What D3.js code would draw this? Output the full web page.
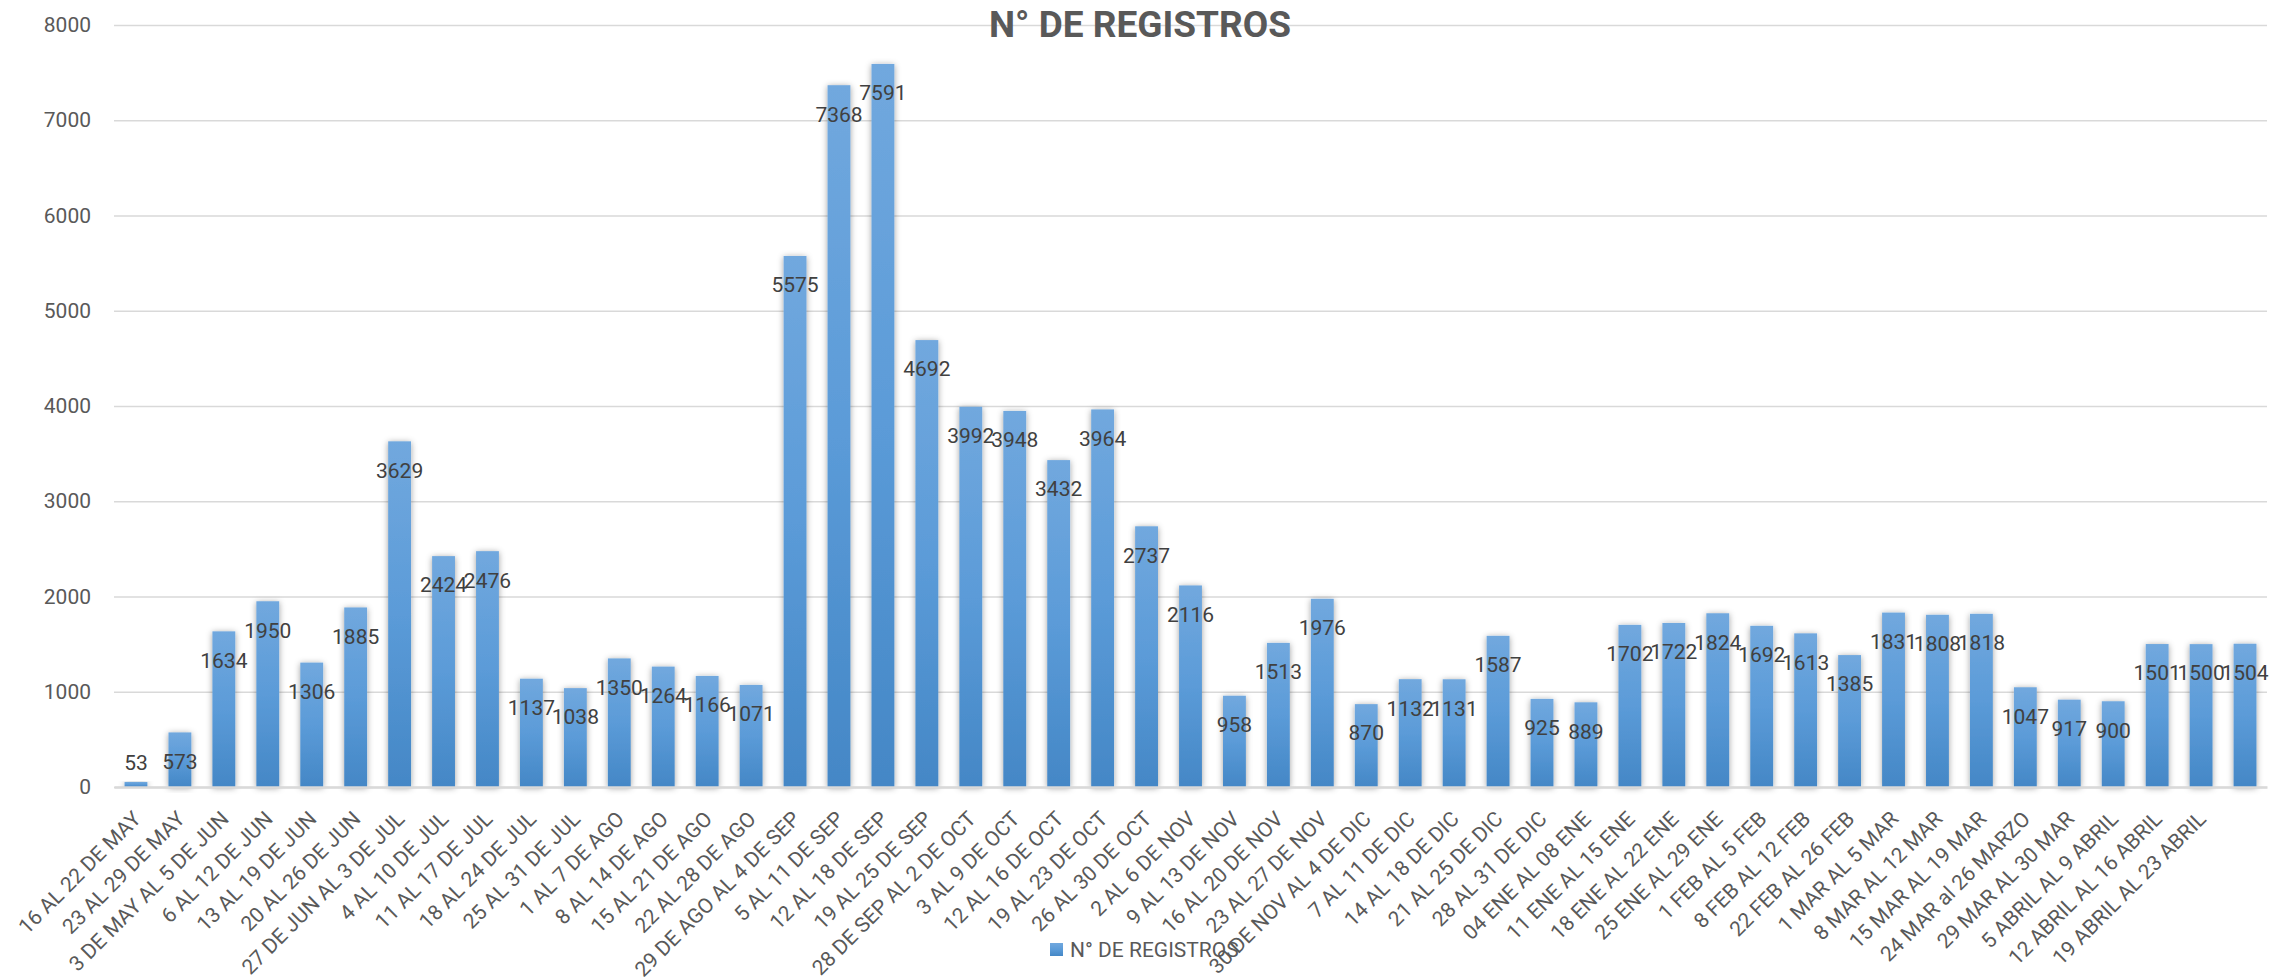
<!DOCTYPE html>
<html>
<head>
<meta charset="utf-8">
<script src="https://cdn.jsdelivr.net/npm/d3@7"></script>
<style>
  html, body { margin: 0; padding: 0; background: #ffffff; }
  svg { display: block; }
</style>
</head>
<body>
<svg id="chart" width="2295" height="980"></svg>
<script>
const title = "N° DE REGISTROS";
const seriesName = "N° DE REGISTROS";

const categories = [
  "16 AL 22 DE MAY", "23 AL 29 DE MAY", "3 DE MAY AL 5 DE JUN", "6 AL 12 DE JUN",
  "13 AL 19 DE JUN", "20 AL 26 DE JUN", "27 DE JUN AL 3 DE JUL", "4 AL 10 DE JUL",
  "11 AL 17 DE JUL", "18 AL 24 DE JUL", "25 AL 31 DE JUL", "1 AL 7 DE AGO",
  "8 AL 14 DE AGO", "15 AL 21 DE AGO", "22 AL 28 DE AGO", "29 DE AGO AL 4 DE SEP",
  "5 AL  11 DE SEP", "12 AL 18 DE SEP", "19 AL 25 DE SEP", "28 DE SEP AL 2 DE OCT",
  "3 AL 9 DE OCT", "12 AL 16 DE OCT", "19 AL 23 DE OCT", "26 AL 30 DE OCT",
  "2 AL 6 DE NOV", "9 AL 13 DE NOV", "16 AL 20 DE NOV", "23 AL 27 DE NOV",
  "30 DE NOV AL 4 DE DIC", "7 AL 11 DE DIC", "14 AL 18 DE DIC", "21 AL 25 DE DIC",
  "28 AL 31 DE DIC", "04 ENE AL 08 ENE", "11 ENE AL 15 ENE", "18 ENE AL 22 ENE",
  "25 ENE AL 29 ENE", "1 FEB AL 5 FEB", "8 FEB AL 12 FEB", "22 FEB AL 26 FEB",
  "1 MAR AL 5 MAR", "8 MAR AL 12 MAR", "15 MAR AL 19 MAR", "24 MAR al 26 MARZO",
  "29 MAR AL 30 MAR", "5 ABRIL AL 9 ABRIL", "12 ABRIL AL 16 ABRIL", "19 ABRIL AL 23 ABRIL",
  ""
];

const values = [
  53, 573, 1634, 1950, 1306, 1885, 3629, 2424, 2476, 1137, 1038, 1350,
  1264, 1166, 1071, 5575, 7368, 7591, 4692, 3992, 3948, 3432, 3964, 2737,
  2116, 958, 1513, 1976, 870, 1132, 1131, 1587, 925, 889, 1702, 1722,
  1824, 1692, 1613, 1385, 1831, 1808, 1818, 1047, 917, 900, 1501, 1500,
  1504
];

const yTicks = [0, 1000, 2000, 3000, 4000, 5000, 6000, 7000, 8000];

const FONT = "Roboto, 'Open Sans', 'Liberation Sans', sans-serif";
const svg = d3.select("#chart");

const plotLeft = 114, plotRight = 2267, plotTop = 25, plotBottom = 787;

const x = d3.scaleBand()
  .domain(d3.range(categories.length))
  .range([plotLeft, plotRight])
  .paddingInner(0.48)
  .paddingOuter(0.24);

const y = d3.scaleLinear().domain([0, 8000]).range([plotBottom, plotTop]);

// defs: gradient + shadow
const defs = svg.append("defs");
const grad = defs.append("linearGradient")
  .attr("id", "barGrad").attr("x1", 0).attr("y1", 0).attr("x2", 0).attr("y2", 1);
grad.append("stop").attr("offset", "0%").attr("stop-color", "#71a8de");
grad.append("stop").attr("offset", "50%").attr("stop-color", "#5b9bd8");
grad.append("stop").attr("offset", "100%").attr("stop-color", "#4487c6");

const f = defs.append("filter").attr("id", "shadow")
  .attr("x", "-50%").attr("y", "-10%").attr("width", "200%").attr("height", "120%");
f.append("feDropShadow").attr("dx", 0).attr("dy", 1).attr("stdDeviation", 3)
  .attr("flood-color", "#000").attr("flood-opacity", 0.38);

// y axis with gridlines
const yAxis = svg.append("g")
  .attr("transform", `translate(${plotLeft},0)`)
  .call(d3.axisLeft(y).tickValues(yTicks).tickFormat(d3.format("d"))
    .tickSizeInner(-(plotRight - plotLeft)).tickSizeOuter(0).tickPadding(23));
yAxis.select(".domain").remove();
yAxis.selectAll(".tick line")
  .attr("stroke", "#d9d9d9").attr("stroke-width", 1.6);
yAxis.selectAll(".tick text")
  .attr("fill", "#595959").style("font-family", FONT).style("font-size", "21px");

// bars
svg.append("g").selectAll("rect")
  .data(values)
  .join("rect")
  .attr("x", (d, i) => x(i))
  .attr("y", d => y(d))
  .attr("width", x.bandwidth())
  .attr("height", d => y(0) - y(d))
  .attr("fill", "url(#barGrad)")
  .attr("filter", "url(#shadow)");

// x axis
const xAxis = svg.append("g")
  .attr("transform", `translate(0,${plotBottom})`)
  .call(d3.axisBottom(x).tickFormat(i => categories[i]).tickSizeInner(0).tickSizeOuter(0));
xAxis.select(".domain").attr("stroke", "#d9d9d9").attr("stroke-width", 2.5);
xAxis.selectAll(".tick text")
  .attr("x", 0).attr("y", 0).attr("dy", "0.35em")
  .attr("text-anchor", "end")
  .attr("transform", "translate(1,28) rotate(-45)")
  .attr("fill", "#595959")
  .style("font-family", FONT).style("font-size", "21px");

// data labels
svg.append("g").selectAll("text")
  .data(values)
  .join("text")
  .attr("x", (d, i) => x(i) + x.bandwidth() / 2)
  .attr("y", d => (y(0) - y(d) < 40) ? y(d) - 19 : y(d) + 29)
  .attr("dy", "0.35em")
  .attr("text-anchor", "middle")
  .attr("fill", "#404040")
  .style("font-family", FONT).style("font-size", "21px")
  .text(d => d);

// title
svg.append("text")
  .attr("x", 1140).attr("y", 37)
  .attr("text-anchor", "middle")
  .attr("fill", "#595959")
  .style("font-family", FONT).style("font-size", "37px").style("font-weight", "bold")
  .text(title);

// legend
const lg = svg.append("g").attr("transform", "translate(1050,943)");
lg.append("rect").attr("width", 13).attr("height", 13).attr("fill", "url(#barGrad)");
lg.append("text").attr("x", 20).attr("y", 7).attr("dy", "0.35em")
  .attr("fill", "#595959")
  .style("font-family", FONT).style("font-size", "21px")
  .text(seriesName);
</script>
</body>
</html>
